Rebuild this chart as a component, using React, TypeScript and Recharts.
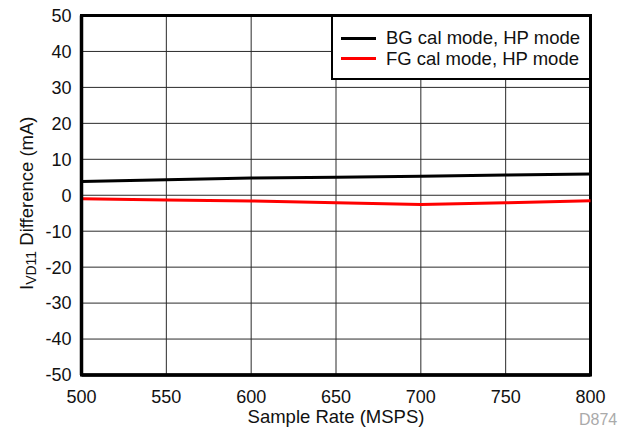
import {
  LineChart,
  Line,
  XAxis,
  YAxis,
  CartesianGrid,
  ReferenceArea,
  Legend,
} from "recharts";

const sampleRates = [500, 550, 600, 650, 700, 750, 800];
const bgCalValues = [3.8, 4.3, 4.8, 5.0, 5.3, 5.6, 5.9];
const fgCalValues = [-1.0, -1.3, -1.6, -2.1, -2.6, -2.1, -1.5];

const xTicks = [500, 550, 600, 650, 700, 750, 800];
const yTicks = [-50, -40, -30, -20, -10, 0, 10, 20, 30, 40, 50];

const seriesNames = ["BG cal mode, HP mode", "FG cal mode, HP mode"];

const chartData = sampleRates.map((rate, i) => ({
  rate,
  bg: bgCalValues[i],
  fg: fgCalValues[i],
}));

const FONT = "'Liberation Sans', Arial, Helvetica, sans-serif";

const LegendBox = () => {
  const colors = ["#000000", "#ff0000"];
  return (
    <div
      style={{
        position: "relative",
        boxSizing: "border-box",
        width: 260,
        height: 65,
        border: "2.5px solid #000",
        background: "#fff",
        fontFamily: FONT,
        fontSize: 18.5,
        color: "#111",
      }}
    >
      {seriesNames.map((name, i) => (
        <div
          key={name}
          style={{
            position: "absolute",
            left: 8,
            top: 11 + i * 20.5,
            display: "flex",
            alignItems: "center",
            height: 20,
            whiteSpace: "nowrap",
          }}
        >
          <span
            style={{
              display: "inline-block",
              width: 35,
              height: 3,
              background: colors[i],
              marginRight: 10,
            }}
          />
          <span>{name}</span>
        </div>
      ))}
    </div>
  );
};

export default function App() {
  return (
    <div
      style={{
        position: "absolute",
        left: 0,
        top: 0,
        width: 626,
        height: 432,
        background: "#fff",
      }}
    >
      <LineChart
        width={626}
        height={432}
        data={chartData}
        margin={{ top: 15.5, right: 35.5, bottom: 27, left: 9.5 }}
      >
        <CartesianGrid stroke="#2a2a2a" strokeWidth={1} />
        <XAxis
          dataKey="rate"
          type="number"
          domain={[500, 800]}
          ticks={xTicks}
          height={30}
          axisLine={{ stroke: "#000", strokeWidth: 3.5 }}
          tickLine={false}
          tickSize={6}
          tickMargin={9}
          tick={{ fill: "#111", fontSize: 18, fontFamily: FONT }}
          label={{
            content: (props: any) => {
              const vb = props.viewBox || { x: 81.5, width: 509 };
              return (
                <text
                  x={vb.x + vb.width / 2}
                  y={423}
                  textAnchor="middle"
                  fill="#111"
                  fontSize={18.5}
                  fontFamily={FONT}
                >
                  Sample Rate (MSPS)
                </text>
              );
            },
          }}
        />
        <YAxis
          type="number"
          domain={[-50, 50]}
          ticks={yTicks}
          width={72}
          axisLine={{ stroke: "#000", strokeWidth: 3.5 }}
          tickLine={false}
          tickSize={6}
          tickMargin={4}
          tick={{ fill: "#111", fontSize: 18, fontFamily: FONT }}
          label={{
            content: (props: any) => {
              const vb = props.viewBox || { y: 15.5, height: 359.5 };
              const cy = vb.y + vb.height / 2 + 8;
              return (
                <text
                  x={33}
                  y={cy}
                  transform={`rotate(-90, 33, ${cy})`}
                  textAnchor="middle"
                  fill="#111"
                  fontSize={18.5}
                  fontFamily={FONT}
                >
                  I
                  <tspan fontSize={14} dy={3}>
                    VD11
                  </tspan>
                  <tspan dy={-3}> Difference (mA)</tspan>
                </text>
              );
            },
          }}
        />
        <ReferenceArea
          x1={500}
          x2={800}
          y1={-50}
          y2={50}
          fill="none"
          stroke="#000"
          strokeWidth={3}
          fillOpacity={0}
        />
        <Line
          type="linear"
          dataKey="bg"
          name={seriesNames[0]}
          stroke="#000000"
          strokeWidth={3}
          dot={false}
          isAnimationActive={false}
        />
        <Line
          type="linear"
          dataKey="fg"
          name={seriesNames[1]}
          stroke="#ff0000"
          strokeWidth={3}
          dot={false}
          isAnimationActive={false}
        />
        <Legend
          layout="vertical"
          align="center"
          verticalAlign="middle"
          content={() => <LegendBox />}
          wrapperStyle={{ left: 331, top: 15, width: 260, height: 65 }}
        />
      </LineChart>
      <div
        style={{
          position: "absolute",
          left: 579,
          top: 412,
          fontFamily: FONT,
          fontSize: 16,
          color: "#aaa",
          lineHeight: "16px",
        }}
      >
        D874
      </div>
    </div>
  );
}
